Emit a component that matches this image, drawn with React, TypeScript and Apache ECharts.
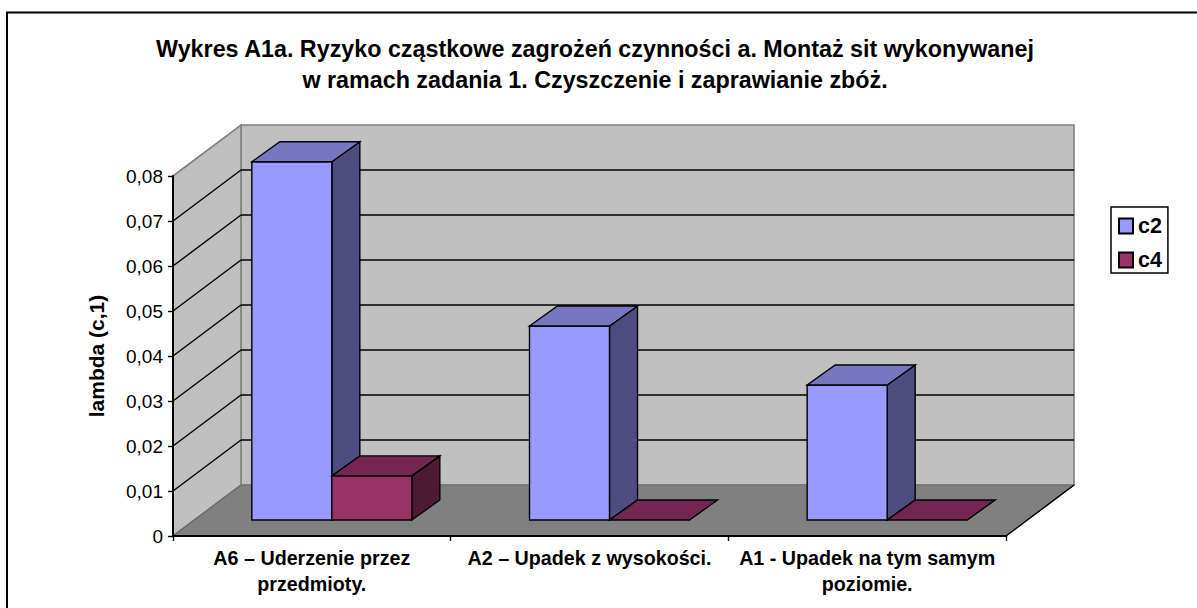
import React, { useEffect, useRef } from "react";
import * as echarts from "echarts";

const titleLines = [
  "Wykres A1a. Ryzyko cząstkowe zagrożeń czynności a. Montaż sit wykonywanej",
  "w ramach zadania 1. Czyszczenie i zaprawianie zbóż.",
];
const categories = [
  "A6 – Uderzenie przez\nprzedmioty.",
  "A2 – Upadek z wysokości.",
  "A1 - Upadek na tym samym\npoziomie.",
];
const c2Values = [0.0796, 0.0431, 0.03];
const c4Values = [0.0098, 0, 0];
const yTicks = [0, 0.01, 0.02, 0.03, 0.04, 0.05, 0.06, 0.07, 0.08];
const yMax = 0.08;
const yStep = 0.01;

const FONT = "Liberation Sans";
// 3D projection, in pixels
const WALL_DX = 68;
const WALL_DY = -51;
const PLANE_DX = 20;
const PLANE_DY = -16;
const BAR_DX = 28;
const BAR_DY = -20;
const BAR_W = 80;

const poly = (points: number[][], fill: string, stroke: string, lineWidth = 1.4) => ({
  type: "polygon",
  shape: { points },
  style: { fill, stroke, lineWidth, lineJoin: "miter" },
});
const seg = (a: number[], b: number[], stroke: string, lineWidth = 1.4) => ({
  type: "line",
  shape: { x1: a[0], y1: a[1], x2: b[0], y2: b[1] },
  style: { stroke, lineWidth },
});

const renderWalls = (_p: any, api: any) => {
  const band = api.size([1, 0])[0];
  const left = api.coord([0, 0])[0] - band / 2;
  const right = api.coord([categories.length - 1, 0])[0] + band / 2;
  const yAt = (v: number) => api.coord([0, v])[1];
  const y0 = yAt(0);
  const yTop = yAt(yMax);
  const children: any[] = [];
  // back wall
  children.push(
    poly(
      [
        [left + WALL_DX, yTop + WALL_DY],
        [right + WALL_DX, yTop + WALL_DY],
        [right + WALL_DX, y0 + WALL_DY],
        [left + WALL_DX, y0 + WALL_DY],
      ],
      "#C0C0C0",
      "#808080",
      1.6
    )
  );
  // side wall
  children.push(
    poly(
      [
        [left, y0],
        [left, yTop],
        [left + WALL_DX, yTop + WALL_DY],
        [left + WALL_DX, y0 + WALL_DY],
      ],
      "#C0C0C0",
      "#808080",
      1.6
    )
  );
  // floor
  children.push(
    poly(
      [
        [left, y0],
        [right, y0],
        [right + WALL_DX, y0 + WALL_DY],
        [left + WALL_DX, y0 + WALL_DY],
      ],
      "#808080",
      "#6a6a6a",
      1.2
    )
  );
  children.push(seg([right, y0], [right + WALL_DX, y0 + WALL_DY], "#000", 1.4));
  yTicks.forEach((t) => {
    if (t === 0 || t === yMax) return;
    const y = yAt(t);
    children.push(seg([left, y], [left + WALL_DX, y + WALL_DY], "#000"));
    children.push(seg([left + WALL_DX, y + WALL_DY], [right + WALL_DX, y + WALL_DY], "#000"));
  });
  return { type: "group", children };
};

const makeBars =
  (slot: number, front: string, top: string, side: string) => (_p: any, api: any) => {
    const c = api.coord([api.value(0), api.value(1)]);
    const base = api.coord([api.value(0), 0]);
    const x0 = c[0] + PLANE_DX + slot * BAR_W;
    const x1 = x0 + BAR_W;
    const yT = c[1] + PLANE_DY;
    const yB = base[1] + PLANE_DY;
    const children: any[] = [];
    if (yB - yT > 0.5) {
      children.push(
        poly([[x1, yT], [x1 + BAR_DX, yT + BAR_DY], [x1 + BAR_DX, yB + BAR_DY], [x1, yB]], side, "#000")
      );
      children.push(poly([[x0, yT], [x1, yT], [x1, yB], [x0, yB]], front, "#000"));
    }
    children.push(
      poly([[x0, yT], [x1, yT], [x1 + BAR_DX, yT + BAR_DY], [x0 + BAR_DX, yT + BAR_DY]], top, "#000")
    );
    return { type: "group", children };
  };

export default function App() {
  const ref = useRef<HTMLDivElement>(null);
  useEffect(() => {
    const chart = echarts.init(ref.current!, null, { renderer: "svg" });
    chart.setOption({
      animation: false,
      backgroundColor: "#fff",
      textStyle: { fontFamily: FONT },
      title: {
        text: titleLines.join("\n"),
        left: 590,
        top: 28,
        textAlign: "center",
        textStyle: { fontFamily: FONT, fontSize: 23.3, fontWeight: "bold", color: "#000", lineHeight: 31 },
      },
      graphic: [
        {
          type: "rect",
          shape: { x: 7, y: 12.5, width: 1300, height: 700 },
          style: { fill: "none", stroke: "#000", lineWidth: 2 },
          silent: true,
          z: 100,
        },
      ],
      legend: {
        data: ["c2", "c4"],
        orient: "vertical",
        left: 1111,
        top: 207,
        padding: [8, 6, 2, 7],
        itemGap: 12,
        itemWidth: 14,
        itemHeight: 15,
        icon: "rect",
        borderColor: "#000",
        borderWidth: 1.5,
        backgroundColor: "#fff",
        selectedMode: false,
        textStyle: { fontFamily: FONT, fontSize: 21.5, fontWeight: "bold", color: "#000" },
      },
      grid: { left: 173, top: 176, width: 833, height: 360, containLabel: false },
      xAxis: {
        type: "category",
        data: categories,
        z: 5,
        axisLine: { show: true, lineStyle: { color: "#000", width: 2 } },
        axisTick: { show: true, alignWithLabel: false, length: 5, lineStyle: { color: "#000", width: 1.4 } },
        axisLabel: {
          interval: 0,
          margin: 9,
          fontFamily: FONT,
          fontSize: 19.7,
          fontWeight: "bold",
          color: "#000",
          lineHeight: 26,
        },
      },
      yAxis: {
        type: "value",
        min: 0,
        max: yMax,
        interval: yStep,
        z: 5,
        name: "lambda (c,1)",
        nameLocation: "middle",
        nameGap: 66,
        nameTextStyle: { fontFamily: FONT, fontSize: 21, fontWeight: "bold", color: "#000" },
        splitLine: { show: false },
        axisLine: { show: true, lineStyle: { color: "#000", width: 2 } },
        axisTick: { show: true, length: 5, lineStyle: { color: "#000", width: 1.4 } },
        axisLabel: {
          margin: 10,
          fontFamily: FONT,
          fontSize: 19,
          color: "#000",
          formatter: (v: number) => (v === 0 ? "0" : v.toFixed(2).replace(".", ",")),
        },
      },
      series: [
        {
          name: "walls",
          type: "custom",
          silent: true,
          clip: false,
          z: 1,
          data: [[0, 0]],
          renderItem: renderWalls,
        },
        {
          name: "c2",
          type: "custom",
          silent: true,
          clip: false,
          z: 2,
          itemStyle: { color: "#9999FF", borderColor: "#000", borderWidth: 1.4 },
          data: c2Values.map((v, i) => [i, v]),
          renderItem: makeBars(-1, "#9999FF", "#7777BF", "#4D4D80"),
        },
        {
          name: "c4",
          type: "custom",
          silent: true,
          clip: false,
          z: 3,
          itemStyle: { color: "#993366", borderColor: "#000", borderWidth: 1.4 },
          data: c4Values.map((v, i) => [i, v]),
          renderItem: makeBars(0, "#993366", "#732650", "#4D1A33"),
        },
      ],
    });
    return () => chart.dispose();
  }, []);
  return <div ref={ref} style={{ position: "absolute", left: 0, top: 0, width: 1197, height: 608 }} />;
}
